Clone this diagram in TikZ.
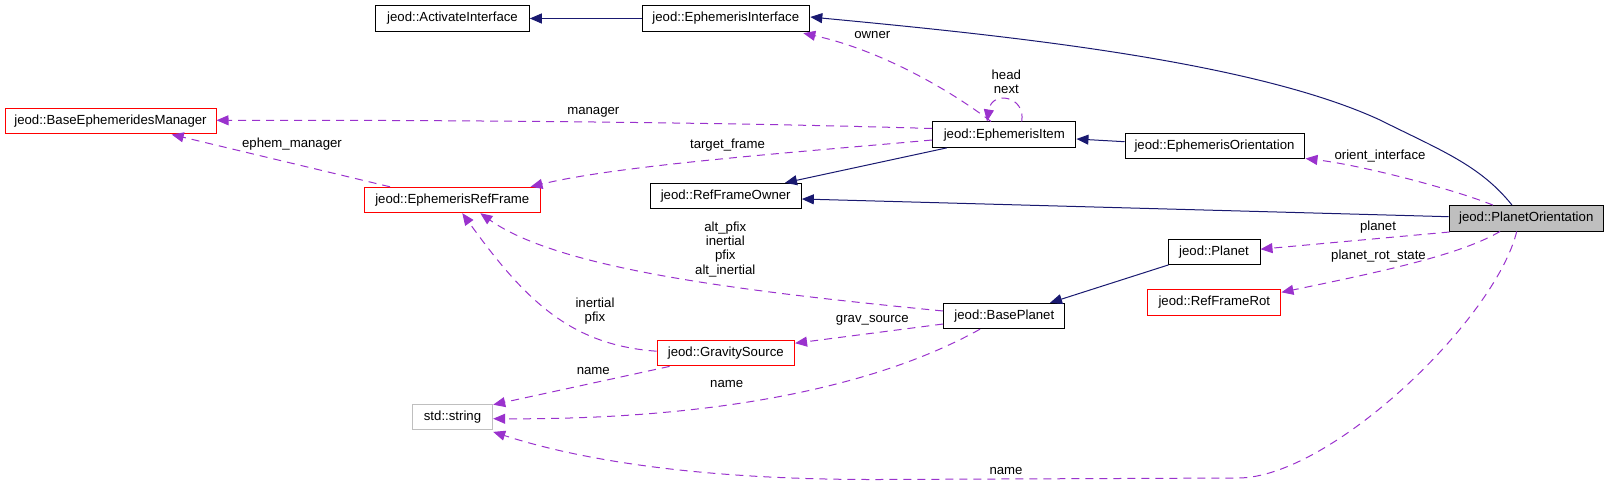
\documentclass[tikz,border=0pt]{standalone}
\usepackage{fontspec}
\setmainfont{Liberation Sans}
\usetikzlibrary{arrows.meta}
\definecolor{navy}{HTML}{191970}
\definecolor{purp}{HTML}{9A32CD}
\definecolor{gry}{HTML}{BFBFBF}
\begin{document}
\begin{tikzpicture}[x=1pt,y=-1pt,
  font=\fontsize{13.2}{14.4}\selectfont,
  cls/.style={draw=black, line width=1pt, minimum height=25.4pt, inner sep=0pt, fill=white},
  redcls/.style={cls, draw=red},
  greycls/.style={cls, draw=gry},
  focus/.style={cls, fill=gry},
  inh/.style={draw=navy, line width=1pt, -{Triangle[length=12pt,width=10pt]}},
  use/.style={draw=purp, line width=1pt, dash pattern=on 8pt off 6pt, -{Triangle[length=12pt,width=10pt]}},
  lbl/.style={inner sep=0pt, align=center}]
\useasboundingbox (0,0) rectangle (1609,484);

% nodes
\node[cls, minimum width=153.6pt] (AI) at (452.5,18.5) {jeod::ActivateInterface};
\node[cls, minimum width=167pt] (EI) at (725.8,18.5) {jeod::EphemerisInterface};
\node[redcls, minimum width=211pt] (BEM) at (110.5,121.3) {jeod::BaseEphemeridesManager};
\node[cls, minimum width=143.3pt] (EItem) at (1004.3,134.7) {jeod::EphemerisItem};
\node[cls, minimum width=179pt] (EO) at (1214.5,146.3) {jeod::EphemerisOrientation};
\node[redcls, minimum width=175.4pt] (ERF) at (452.3,200) {jeod::EphemerisRefFrame};
\node[cls, minimum width=151.3pt] (RFO) at (725.7,196) {jeod::RefFrameOwner};
\node[focus, minimum width=154.3pt] (PO) at (1526.2,218.3) {jeod::PlanetOrientation};
\node[cls, minimum width=92pt] (PL) at (1214,251.7) {jeod::Planet};
\node[redcls, minimum width=133.3pt] (RFR) at (1214.3,302.3) {jeod::RefFrameRot};
\node[cls, minimum width=121.3pt] (BP) at (1004.3,316) {jeod::BasePlanet};
\node[redcls, minimum width=137.5pt] (GS) at (725.8,353.2) {jeod::GravitySource};
\node[greycls, minimum width=80.4pt] (SS) at (452.5,417.2) {std::string};

% inheritance edges
\draw[inh] (EI.west) -- (AI.east);
\draw[inh] ([shift={(-14.2,0)}]PO.north) .. controls (1480,165) and (1440,150) .. (1380,120)
  .. controls (1250,60) and (1000,35) .. ([shift={(0.5,-1.5)}]EI.east);
\draw[inh] ([shift={(0,-4.6)}]EO.west) -- ([shift={(0,4.3)}]EItem.east);
\draw[inh] ([shift={(-57.6,0)}]EItem.south) -- ([shift={(59.3,0)}]RFO.north);
\draw[inh] ([shift={(0,-1.6)}]PO.west) -- ([shift={(0,3)}]RFO.east);
\draw[inh] ([shift={(1,0)}]PL.south west) -- ([shift={(45.7,0)}]BP.north);

% usage edges
\draw[use] ([shift={(-13.3,0)}]EItem.north) .. controls (950,90) and (880,50) .. ([shift={(77.5,1.5)}]EI.south);
\draw[use] ([shift={(17.4,0)}]EItem.north) .. controls (1026,96) and (992,90) .. ([shift={(-17.3,0)}]EItem.north);
\draw[use] ([shift={(0,-6.2)}]EItem.west) .. controls (750,123) and (500,120) .. ([shift={(0,-1)}]BEM.east);
\draw[use] ([shift={(0,5.3)}]EItem.west) .. controls (800,152) and (620,165) .. ([shift={(-10,0)}]ERF.north east);
\draw[use] ([shift={(-62.3,0)}]ERF.north) -- ([shift={(61.2,0)}]BEM.south);
\draw[use] ([shift={(-33.2,0)}]PO.north) .. controls (1450,188) and (1360,165) .. ([shift={(1,-1)}]EO.south east);
\draw[use] ([shift={(1,0.5)}]PO.south west) -- ([shift={(0,-2.5)}]PL.east);
\draw[use] ([shift={(-26.2,0)}]PO.south) .. controls (1460,255) and (1380,272) .. ([shift={(0,-10)}]RFR.east);
\draw[use] ([shift={(-9.5,0)}]PO.south) .. controls (1495,320) and (1330,478) .. (1238,478)
  -- (880,479.5) .. controls (700,480) and (580,460) .. ([shift={(0,1.5)}]SS.south east);
\draw[use] ([shift={(0,-5)}]BP.west) .. controls (750,292) and (560,270) .. ([shift={(28,0)}]ERF.south);
\draw[use] ([shift={(0,-2)}]GS.west) .. controls (570,345) and (525,300) .. ([shift={(10,0)}]ERF.south);
\draw[use] ([shift={(0,8)}]BP.west) -- ([shift={(0,-10)}]GS.east);
\draw[use] ([shift={(13,0)}]GS.south west) -- ([shift={(0,0.7)}]SS.north east);
\draw[use] ([shift={(-24.3,0)}]BP.south) .. controls (880,385) and (720,420) .. ([shift={(0,1.5)}]SS.east);

% labels
\node[lbl] (l1) at (872.3,35) {owner};
\node[lbl] (l2) at (1006.3,81.5) {head\\next};
\node[lbl] (l3) at (593.3,112.7) {manager};
\node[lbl] (l4) at (292,143.7) {ephem\_manager};
\node[lbl] (l5) at (727.5,145) {target\_frame};
\node[lbl] (l6) at (1380,156) {orient\_interface};
\node[lbl] (l7) at (1378,226.7) {planet};
\node[lbl] (l8) at (1378.5,256) {planet\_rot\_state};
\node[lbl] (l9) at (725.3,249.3) {alt\_pfix\\inertial\\pfix\\alt\_inertial};
\node[lbl] (l10) at (872.3,320) {grav\_source};
\node[lbl] (l11) at (595,311) {inertial\\pfix};
\node[lbl] (l12) at (593.3,371) {name};
\node[lbl] (l13) at (726.7,384.3) {name};
\node[lbl] (l14) at (1006,470.7) {name};
\end{tikzpicture}
\end{document}
